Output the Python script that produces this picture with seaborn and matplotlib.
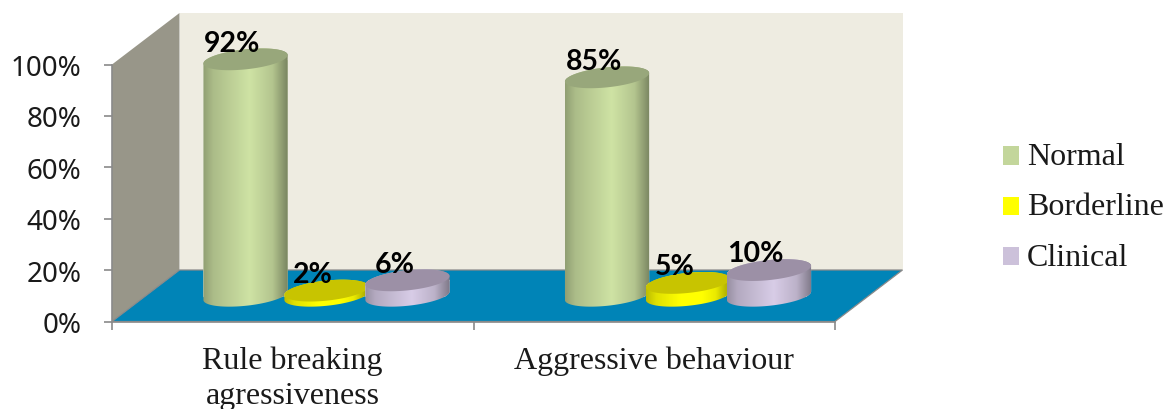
import numpy as np
import pandas as pd
import seaborn as sns
import matplotlib
matplotlib.use("Agg")
import matplotlib.pyplot as plt
from matplotlib.patches import Polygon, Patch
from matplotlib.path import Path
from matplotlib.transforms import IdentityTransform

# Survey shares per behaviour scale
scales = ["Rule breaking\nagressiveness", "Aggressive behaviour"]
levels = ["Normal", "Borderline", "Clinical"]
normal = [92, 85]
borderline = [2, 5]
clinical = [6, 10]

level_colors = ["#C3D69B", "#FFFF00", "#CCC1DA"]
top_colors = ["#98A77B", "#C8C400", "#9C90A6"]
back_wall = "#EEECE1"
side_wall = "#989689"
floor_color = "#0084B7"
axis_gray = "#8A8A8A"
ink = "#1A1A1A"

W, H = 1166, 410
# Plot box in pixels and the depth of the fake 3D room
LEFT, RIGHT, BASE, TOP100 = 112.0, 835.0, 322.5, 65.5
DEPTH_X, DEPTH_Y = 67.5, 51.5
PX_PER_PCT = (BASE - TOP100) / 100
# Cylinder end caps: half axes in pixels, tilt in degrees
CAP_B, CAP_TILT = 10.0, 6.1

long_form = pd.DataFrame({
    "scale": scales * 3,
    "level": np.repeat(levels, len(scales)),
    "share": normal + borderline + clinical,
})


def box(x0, x1, ytop, ybottom):
    return [x0 / W, 1 - ybottom / H, (x1 - x0) / W, (ybottom - ytop) / H]


sns.set_theme(style="white")
plt.rcParams["font.family"] = ["Liberation Serif", "DejaVu Sans"]
fig = plt.figure(figsize=(W / 100, H / 100), dpi=100, facecolor="white")

# Room: back wall, side wall and floor, in pixel space
room = fig.add_axes([0, 0, 1, 1], zorder=0)
room.set_xlim(0, W)
room.set_ylim(H, 0)
room.axis("off")
bx0, bx1 = LEFT + DEPTH_X, RIGHT + DEPTH_X
by0, by1 = BASE - DEPTH_Y, TOP100 - DEPTH_Y
room.add_patch(Polygon([(bx0, by0), (bx1, by0), (bx1, by1), (bx0, by1)], fc=back_wall, ec="none"))
room.add_patch(Polygon([(LEFT, BASE), (bx0, by0), (bx0, by1), (LEFT, TOP100)], fc=side_wall, ec="none"))
room.add_patch(Polygon([(LEFT, BASE), (RIGHT, BASE), (bx1, by0), (bx0, by0)],
                       fc=floor_color, ec=axis_gray, lw=0.9))

# Front axes carrying the ticks and labels
front = fig.add_axes(box(LEFT, RIGHT, TOP100, BASE), zorder=1, facecolor="none")
front.set_xlim(-0.5, 1.5)
front.set_ylim(0, 100)
for side in ("top", "right"):
    front.spines[side].set_visible(False)
for side in ("left", "bottom"):
    front.spines[side].set_color(axis_gray)
    front.spines[side].set_linewidth(1.2)
front.set_yticks(range(0, 101, 20))
front.set_yticklabels([f"{v}%" for v in range(0, 101, 20)], family="Noto Sans", fontsize=20, color=ink)
front.tick_params(axis="y", left=True, length=6, width=1.2, color=axis_gray, pad=16)
front.set_xticks([-0.5, 0.5, 1.5])
front.set_xticklabels([])
front.set_xticks([0, 1], labels=scales, minor=True)
front.tick_params(axis="x", which="major", bottom=True, length=6, width=1.2, color=axis_gray)
front.tick_params(axis="x", which="minor", bottom=False, length=0, pad=17, labelsize=23, labelcolor=ink)
for label in front.get_xticklabels(minor=True):
    label.set_linespacing(1.28)

# Bars stand halfway into the room, so their axes sit at half the depth
bars_base = BASE - DEPTH_Y / 2
below = 10
bars = fig.add_axes(box(LEFT + DEPTH_X / 2, RIGHT + DEPTH_X / 2,
                        bars_base - 100 * PX_PER_PCT, bars_base + below * PX_PER_PCT),
                    zorder=2, facecolor="none")
sns.barplot(data=long_form, x="scale", y="share", hue="level", hue_order=levels, order=scales,
            palette=level_colors, width=0.672, gap=-0.04, legend=False, ax=bars)
bars.set_xlim(-0.5, 1.5)
bars.set_ylim(-below, 100)
bars.axis("off")
fig.canvas.draw()

theta = np.radians(CAP_TILT)
shade_pos = [0.0, 0.12, 0.55, 0.82, 1.0]
shade_val = [0.74, 0.88, 1.06, 0.92, 0.62]


def cap_points(cx, cy, a, t):
    return np.column_stack([
        cx + a * np.cos(t) * np.cos(theta) - CAP_B * np.sin(t) * np.sin(theta),
        cy + a * np.cos(t) * np.sin(theta) + CAP_B * np.sin(t) * np.cos(theta),
    ])


for layer, (container, base_color, top_color) in enumerate(zip(bars.containers, level_colors, top_colors)):
    rgb = np.array(matplotlib.colors.to_rgb(base_color))
    ramp = np.interp(np.linspace(0, 1, 256), shade_pos, shade_val)
    gradient = np.clip(ramp[None, :, None] * rgb[None, None, :], 0, 1)
    for rect in container:
        x0, x1 = rect.get_x(), rect.get_x() + rect.get_width()
        value = rect.get_height()
        (px0, py0), (px1, py1) = bars.transData.transform([(x0, 0), (x1, value)])
        cx = (px0 + px1) / 2
        half = (px1 - px0) / 2
        a = np.sqrt(max(half ** 2 - (CAP_B * np.sin(theta)) ** 2, 1)) / np.cos(theta)
        t0 = np.arctan2(-CAP_B * np.sin(theta), a * np.cos(theta))
        lower = cap_points(cx, py0, a, np.linspace(t0 + np.pi, t0 + 2 * np.pi, 80))
        upper = cap_points(cx, py1, a, np.linspace(t0, t0 + np.pi, 80))
        outline = Path(np.vstack([lower, upper, lower[:1]]), closed=True)
        z = 2 + layer
        rect.set_zorder(z)
        rect.set_clip_path(outline, IdentityTransform())
        shade = bars.imshow(gradient, extent=(x0, x1, -below, value + 8), aspect="auto",
                            interpolation="bilinear", zorder=z + 0.1)
        shade.set_clip_path(outline, IdentityTransform())
        lid = cap_points(cx, py1, a, np.linspace(0, 2 * np.pi, 120))
        bars.add_patch(Polygon(lid, closed=True, fc=top_color, ec="none",
                               transform=IdentityTransform(), zorder=z + 0.2))
        bars.annotate(f"{value:.0f}%", xy=((x0 + x1) / 2, value), xytext=(-9.5, 6.3),
                      textcoords="offset points", ha="center", va="baseline",
                      family="Lato", fontweight="bold", fontsize=20.5, color="black",
                      zorder=10, annotation_clip=False)
bars.set_xlim(-0.5, 1.5)
bars.set_ylim(-below, 100)

handles = [Patch(fc=c, ec="none", label=l) for c, l in zip(level_colors, levels)]
legend = fig.legend(handles=handles, loc="center left", bbox_to_anchor=(1003 / W, 1 - 208 / H),
                    frameon=False, fontsize=23, labelcolor=ink, handlelength=0.5, handleheight=0.5,
                    handletextpad=0.25, labelspacing=0.67, borderpad=0, borderaxespad=0)
# Bring the swatches level with the text's x-height
for swatch in legend.get_patches():
    swatch.set_y(swatch.get_y() - 2)

fig.savefig("out.png", dpi=100, facecolor="white")
